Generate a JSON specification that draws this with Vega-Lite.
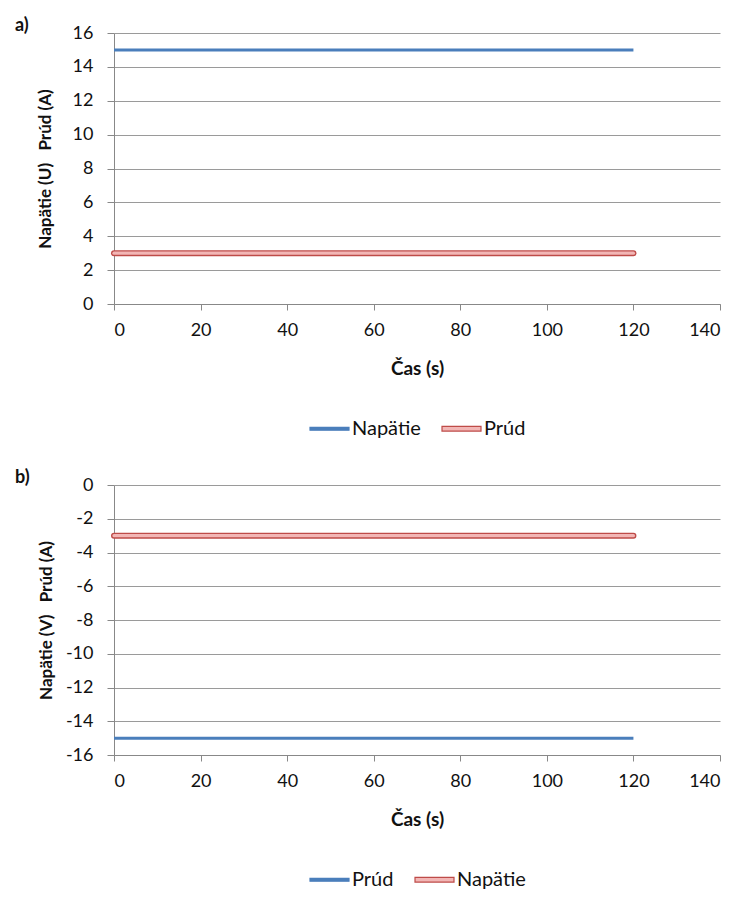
{
  "$schema": "https://vega.github.io/schema/vega-lite/v6.json",
  "padding": {"left": 15, "top": 17, "right": 29, "bottom": 10},
  "background": "white",
  "spacing": 30,
  "resolve": {"scale": {"color": "independent"}, "legend": {"color": "independent"}},
  "config": {
    "font": "Lato",
    "view": {"stroke": null},
    "axisX": {"domainColor": "#888888", "tickColor": "#888888", "tickSize": 6, "labelFontSize": 18, "labelPadding": 11, "labelColor": "#111111", "titleFontSize": 19, "titleFontWeight": "bold", "titleColor": "#111111", "titlePadding": 20, "grid": false},
    "axisY": {"domainColor": "#888888", "tickColor": "#888888", "tickSize": 7, "gridColor": "#9a9a9a", "gridWidth": 1, "labelFontSize": 18, "labelPadding": 14, "labelColor": "#111111", "titleFontSize": 17, "titleFontWeight": "bold", "titleColor": "#111111", "titlePadding": 10, "labelExpr": "replace(datum.label, '\u2212', '-')"},
    "legend": {"orient": "bottom", "direction": "horizontal", "labelFontSize": 20, "labelColor": "#111111", "symbolSize": 1520, "labelOffset": 2, "columnPadding": 18, "offset": 30, "layout": {"bottom": {"anchor": "middle"}}},
    "title": {"fontSize": 18, "fontWeight": "bold", "color": "#111111", "anchor": "start", "frame": "group", "offset": -11}
  },
  "vconcat": [
    {
      "width": 606,
      "height": 271,
      "title": {"text": "a)", "dx": -99},
      "data": {"values": [
        {"t": 0, "v": 15, "s": "Napätie"},
        {"t": 120, "v": 15, "s": "Napätie"},
        {"t": 0, "v": 3, "s": "Prúd"},
        {"t": 120, "v": 3, "s": "Prúd"}
      ]},
      "encoding": {
        "x": {"field": "t", "type": "quantitative", "scale": {"domain": [0, 140]}, "axis": {"title": "Čas (s)", "values": [0, 20, 40, 60, 80, 100, 120, 140]}},
        "y": {"field": "v", "type": "quantitative", "scale": {"domain": [0, 16]}, "axis": {"title": "Napätie (U)\u00a0\u00a0\u00a0Prúd (A)", "titlePadding": 18, "values": [0, 2, 4, 6, 8, 10, 12, 14, 16]}}
      },
      "layer": [
        {
          "transform": [{"filter": "datum.s === 'Napätie'"}],
          "mark": {"type": "line", "strokeWidth": 3, "strokeCap": "butt"},
          "encoding": {"color": {"field": "s", "type": "nominal", "sort": ["Napätie", "Prúd"], "scale": {"domain": ["Napätie", "Prúd"], "range": ["#4a7ebb", "#be4b48"]},
            "legend": {"title": null, "symbolType": "M-1,-0.08H1V0.08H-1Z",
              "encode": {"symbols": {"update": {
                "fill": {"signal": "datum.value === 'Prúd' ? '#f2b6b5' : '#4a7ebb'"},
                "stroke": {"signal": "datum.value === 'Prúd' ? '#be4b48' : '#4a7ebb'"},
                "shape": {"signal": "datum.value === 'Prúd' ? 'M-1,-0.12H1V0.12H-1Z' : 'M-1,-0.075H1V0.075H-1Z'"},
                "strokeWidth": {"value": 1.2},
                "opacity": {"value": 1}
              }}}}}}
        },
        {
          "transform": [{"filter": "datum.s === 'Prúd'"}],
          "mark": {"type": "line", "strokeWidth": 6, "strokeCap": "round"},
          "encoding": {"color": {"field": "s", "type": "nominal", "scale": {"domain": ["Napätie", "Prúd"], "range": ["#4a7ebb", "#be4b48"]}}}
        },
        {
          "transform": [{"filter": "datum.s === 'Prúd'"}],
          "mark": {"type": "line", "strokeWidth": 3.2, "strokeCap": "round", "color": "#f2b6b5"}
        }
      ]
    },
    {
      "width": 606,
      "height": 270,
      "title": {"text": "b)", "dx": -99},
      "data": {"values": [
        {"t": 0, "v": -15, "s": "Prúd"},
        {"t": 120, "v": -15, "s": "Prúd"},
        {"t": 0, "v": -3, "s": "Napätie"},
        {"t": 120, "v": -3, "s": "Napätie"}
      ]},
      "encoding": {
        "x": {"field": "t", "type": "quantitative", "scale": {"domain": [0, 140]}, "axis": {"title": "Čas (s)", "values": [0, 20, 40, 60, 80, 100, 120, 140]}},
        "y": {"field": "v", "type": "quantitative", "scale": {"domain": [-16, 0]}, "axis": {"title": "Napätie (V)\u00a0\u00a0\u00a0Prúd (A)", "values": [-16, -14, -12, -10, -8, -6, -4, -2, 0]}}
      },
      "layer": [
        {
          "transform": [{"filter": "datum.s === 'Prúd'"}],
          "mark": {"type": "line", "strokeWidth": 3, "strokeCap": "butt"},
          "encoding": {"color": {"field": "s", "type": "nominal", "sort": ["Prúd", "Napätie"], "scale": {"domain": ["Prúd", "Napätie"], "range": ["#4a7ebb", "#be4b48"]},
            "legend": {"title": null, "symbolType": "M-1,-0.08H1V0.08H-1Z",
              "encode": {"symbols": {"update": {
                "fill": {"signal": "datum.value === 'Napätie' ? '#f2b6b5' : '#4a7ebb'"},
                "stroke": {"signal": "datum.value === 'Napätie' ? '#be4b48' : '#4a7ebb'"},
                "shape": {"signal": "datum.value === 'Napätie' ? 'M-1,-0.12H1V0.12H-1Z' : 'M-1,-0.075H1V0.075H-1Z'"},
                "strokeWidth": {"value": 1.2},
                "opacity": {"value": 1}
              }}}}}}
        },
        {
          "transform": [{"filter": "datum.s === 'Napätie'"}],
          "mark": {"type": "line", "strokeWidth": 6, "strokeCap": "round"},
          "encoding": {"color": {"field": "s", "type": "nominal", "scale": {"domain": ["Prúd", "Napätie"], "range": ["#4a7ebb", "#be4b48"]}}}
        },
        {
          "transform": [{"filter": "datum.s === 'Napätie'"}],
          "mark": {"type": "line", "strokeWidth": 3.2, "strokeCap": "round", "color": "#f2b6b5"}
        }
      ]
    }
  ]
}
